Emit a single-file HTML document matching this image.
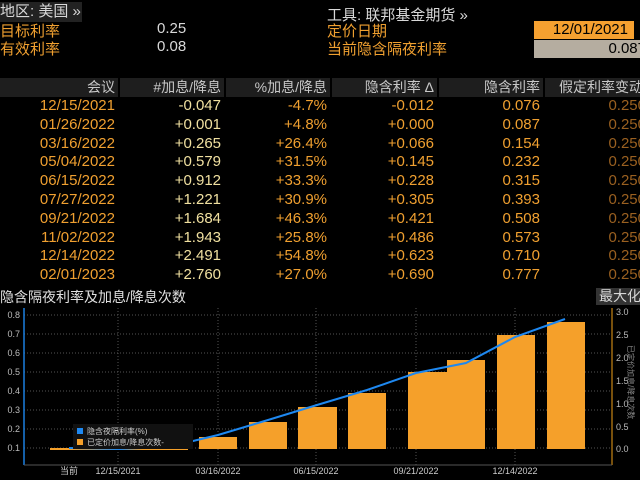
<!DOCTYPE html><html><head><meta charset="utf-8"><style>
body{margin:0;width:640px;height:480px;background:#000;overflow:hidden;font-family:"Liberation Sans","Noto Sans CJK SC",sans-serif;position:relative}
.a{position:absolute;white-space:nowrap}
.o{color:#f0a030}.w{color:#d8d8d8}
.hd{position:absolute;top:78px;height:19px;background:#1e1e1e;color:#c8c8c8;font-size:14px;line-height:19px;text-align:right;padding-right:3px;box-sizing:border-box;white-space:nowrap;overflow:hidden}
.r{position:absolute;font-size:15px;line-height:18px;text-align:right;white-space:nowrap}
</style></head><body>
<div class="a w" style="left:0;top:2px;width:82px;height:20px;background:#222;font-size:15px;line-height:20px">地区: 美国 »</div>
<div class="a o" style="left:0;top:20px;font-size:15px">目标利率</div>
<div class="a o" style="left:0;top:38px;font-size:15px">有效利率</div>
<div class="a w" style="left:157px;top:20px;font-size:15px">0.25</div>
<div class="a w" style="left:157px;top:38px;font-size:15px">0.08</div>
<div class="a w" style="left:327px;top:4px;font-size:15px">工具: 联邦基金期货 »</div>
<div class="a o" style="left:327px;top:20px;font-size:15px">定价日期</div>
<div class="a o" style="left:327px;top:38px;font-size:15px">当前隐含隔夜利率</div>
<div class="a" style="left:534px;top:21px;width:100px;height:18px;background:#f5a030;color:#000;font-size:15px;line-height:18px;text-align:right;padding-right:6px;box-sizing:border-box">12/01/2021</div>
<div class="a" style="left:534px;top:40px;width:120px;height:18px;background:#b5ada0;color:#000;font-size:15px;line-height:18px;text-align:right;padding-right:8px;box-sizing:border-box">0.087</div>
<div class="hd" style="left:0;width:118px">会议</div>
<div class="hd" style="left:120px;width:104px">#加息/降息</div>
<div class="hd" style="left:226px;width:104px">%加息/降息</div>
<div class="hd" style="left:332px;width:105px">隐含利率 Δ</div>
<div class="hd" style="left:439px;width:104px">隐含利率</div>
<div class="hd" style="left:545px;width:100px;text-align:left;padding-left:14px">假定利率变动</div>
<div id="rows"></div>
<div class="a w" style="left:0;top:287px;font-size:14px;color:#e0e0e0">隐含隔夜利率及加息/降息次数</div>
<div class="a w" style="left:596px;top:288px;width:50px;height:17px;background:#333;font-size:14px;line-height:17px;padding-left:3px">最大化</div>
<svg class="a" style="left:0;top:0" width="640" height="480">
<g stroke="#555" stroke-dasharray="1,2" stroke-width="1">
<line x1="24" x2="612" y1="315" y2="315"/><line x1="24" x2="612" y1="334" y2="334"/><line x1="24" x2="612" y1="353" y2="353"/><line x1="24" x2="612" y1="372" y2="372"/><line x1="24" x2="612" y1="391" y2="391"/><line x1="24" x2="612" y1="410" y2="410"/><line x1="24" x2="612" y1="429" y2="429"/><line x1="24" x2="612" y1="448" y2="448"/>
<line x1="118" x2="118" y1="308" y2="465"/><line x1="218" x2="218" y1="308" y2="465"/><line x1="316" x2="316" y1="308" y2="465"/><line x1="416" x2="416" y1="308" y2="465"/><line x1="515" x2="515" y1="308" y2="465"/>
</g>
<line x1="24" x2="24" y1="308" y2="465" stroke="#1a7fe0" stroke-width="1.5"/>
<line x1="612" x2="612" y1="308" y2="465" stroke="#a06a10" stroke-width="1.5"/>
<line x1="24" x2="612" y1="465" y2="465" stroke="#555"/>
<g fill="#f5a02a">
<rect x="50" y="448" width="138" height="2"/>
<rect x="199" y="437" width="38" height="12"/><rect x="249" y="422" width="38" height="27"/><rect x="298" y="407" width="39" height="42"/><rect x="348" y="393" width="38" height="56"/><rect x="408" y="372" width="39" height="77"/><rect x="447" y="360" width="38" height="89"/><rect x="497" y="335" width="38" height="114"/><rect x="547" y="322" width="38" height="127"/>
</g>
<polyline fill="none" stroke="#1e88f0" stroke-width="2" points="69,448 119,449 168,447 218,435 268,420 317,405 367,390 416,373 466,363 515,337 565,319"/>
<g font-size="9" fill="#bbb" text-anchor="end">
<text x="20" y="318">0.8</text><text x="20" y="337">0.7</text><text x="20" y="356">0.6</text><text x="20" y="375">0.5</text><text x="20" y="394">0.4</text><text x="20" y="413">0.3</text><text x="20" y="432">0.2</text><text x="20" y="451">0.1</text>
</g>
<g font-size="9" fill="#bbb">
<text x="616" y="315">3.0</text><text x="616" y="338">2.5</text><text x="616" y="361">2.0</text><text x="616" y="384">1.5</text><text x="616" y="407">1.0</text><text x="616" y="430">0.5</text><text x="616" y="452">0.0</text>
</g>
<g font-size="9" fill="#ccc" text-anchor="middle">
<text x="69" y="474">当前</text><text x="118" y="474">12/15/2021</text><text x="218" y="474">03/16/2022</text><text x="316" y="474">06/15/2022</text><text x="416" y="474">09/21/2022</text><text x="515" y="474">12/14/2022</text>
</g>
<rect x="73" y="424" width="120" height="25" fill="#111"/>
<rect x="77" y="428" width="6" height="6" fill="#1e88f0"/><rect x="77" y="439" width="6" height="6" fill="#f5a02a"/>
<text x="87" y="434" font-size="8" fill="#ccc">隐含夜隔利率(%)</text>
<text x="87" y="445" font-size="8" fill="#ccc">已定价加息/降息次数-</text>
<text x="628" y="345" font-size="8" fill="#888" transform="rotate(90 628 345)">已定价加息/降息次数</text>
</svg>
<script>
var d=[["12/15/2021","-0.047","-4.7%","-0.012","0.076"],["01/26/2022","+0.001","+4.8%","+0.000","0.087"],["03/16/2022","+0.265","+26.4%","+0.066","0.154"],["05/04/2022","+0.579","+31.5%","+0.145","0.232"],["06/15/2022","+0.912","+33.3%","+0.228","0.315"],["07/27/2022","+1.221","+30.9%","+0.305","0.393"],["09/21/2022","+1.684","+46.3%","+0.421","0.508"],["11/02/2022","+1.943","+25.8%","+0.486","0.573"],["12/14/2022","+2.491","+54.8%","+0.623","0.710"],["02/01/2023","+2.760","+27.0%","+0.690","0.777"]];
var R=[115,221,327,434,540],C=["#f0a030","#f0e0a0","#f0a030","#f0a030","#f0a030"],h="";
d.forEach(function(r,i){var t=97+i*18.8;for(var j=0;j<5;j++)h+='<div class="r" style="left:0;width:'+R[j]+'px;top:'+t+'px;color:'+C[j]+'">'+r[j]+'</div>';h+='<div class="r" style="left:0;width:646px;top:'+t+'px;color:#9a6020">0.250</div>';});
document.getElementById("rows").innerHTML=h;
</script>
</body></html>
